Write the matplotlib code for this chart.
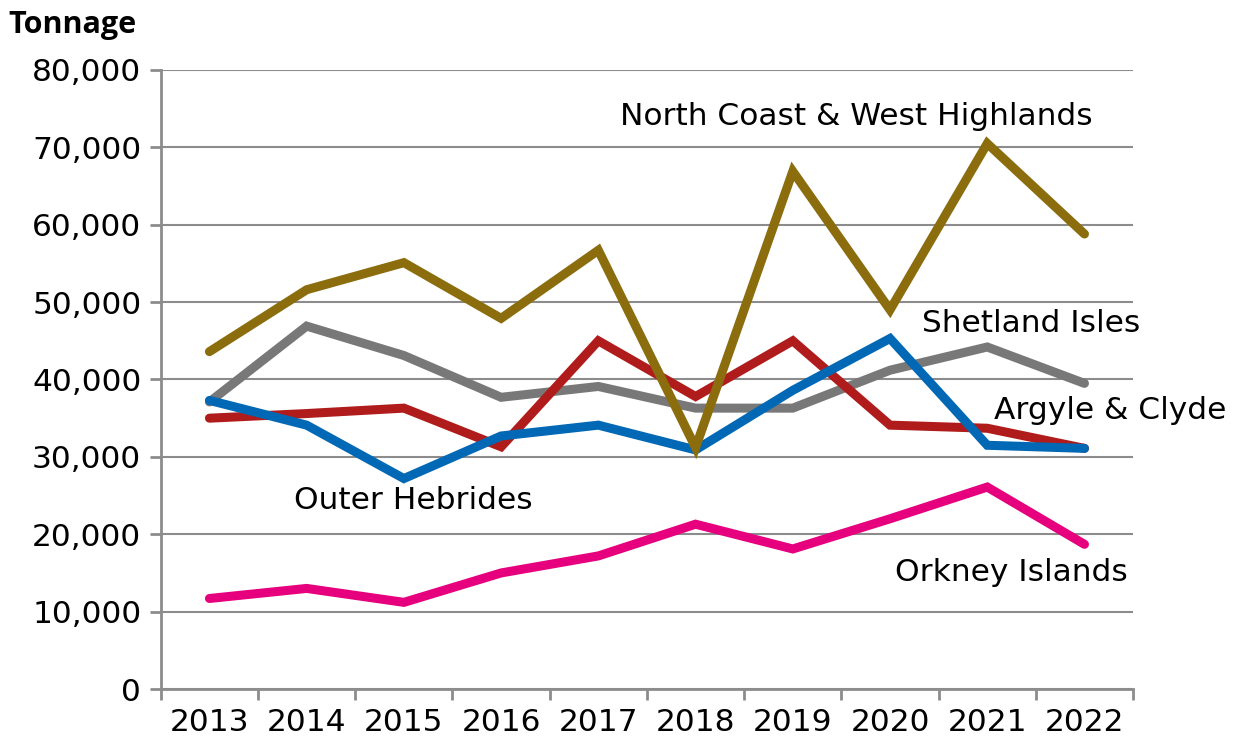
import numpy as np
import matplotlib.pyplot as plt

plt.rcParams['font.family'] = ['DejaVu Sans']

years = ["2013", "2014", "2015", "2016", "2017", "2018", "2019", "2020", "2021", "2022"]
north_coast = [43600, 51600, 55100, 47900, 56700, 31200, 66900, 49000, 70500, 58800]
shetland = [37100, 46900, 43100, 37700, 39100, 36300, 36300, 41200, 44200, 39500]
argyle = [35000, 35600, 36300, 31300, 45000, 37800, 45000, 34100, 33700, 31100]
outer_hebrides = [37300, 34100, 27200, 32700, 34100, 30900, 38600, 45300, 31500, 31100]
orkney = [11700, 13000, 11200, 15000, 17200, 21300, 18100, 22000, 26100, 18700]

fig = plt.figure(figsize=(12.37, 7.42), dpi=100)
ax = fig.add_axes([0.130, 0.0714, 0.786, 0.8343])

x = np.arange(len(years))
lw = 6.5
ax.plot(x, orkney, color="#E6007E", lw=lw, solid_capstyle="round", solid_joinstyle="miter", zorder=3)
ax.plot(x, shetland, color="#787878", lw=lw, solid_capstyle="round", solid_joinstyle="miter", zorder=3)
ax.plot(x, argyle, color="#B01C1C", lw=lw, solid_capstyle="round", solid_joinstyle="miter", zorder=3)
ax.plot(x, outer_hebrides, color="#0068B4", lw=lw, solid_capstyle="round", solid_joinstyle="miter", zorder=3)
ax.plot(x, north_coast, color="#8B6D0E", lw=lw, solid_capstyle="round", solid_joinstyle="miter", zorder=3)

ax.set_xlim(-0.5, len(years) - 0.5)
ax.set_ylim(0, 80000)
ax.set_yticks(np.arange(0, 80001, 10000))
ax.set_yticklabels([f"{v:,}" for v in range(0, 80001, 10000)])
ax.set_xticks(x)
ax.set_xticklabels(years)
ax.set_xticks(np.arange(-0.5, len(years)), minor=True)
ax.tick_params(axis="x", which="major", length=0, pad=14, labelsize=22.5)
ax.tick_params(axis="x", which="minor", length=8, width=2, color="#8C8C8C")
ax.tick_params(axis="y", length=8, width=2, color="#8C8C8C", labelsize=22.5, pad=6)
ax.grid(axis="y", color="#8C8C8C", lw=1.5, zorder=0)

for s in ["top", "right"]:
    ax.spines[s].set_visible(False)
for s in ["left", "bottom"]:
    ax.spines[s].set_color("#8C8C8C")
    ax.spines[s].set_linewidth(2)

fs = 22.5
ax.text(4.22, 74000, "North Coast & West Highlands", fontsize=fs, va="center", ha="left")
ax.text(7.33, 47300, "Shetland Isles", fontsize=fs, va="center", ha="left")
ax.text(8.07, 36050, "Argyle & Clyde", fontsize=fs, va="center", ha="left", clip_on=False)
ax.text(0.87, 24400, "Outer Hebrides", fontsize=fs, va="center", ha="left")
ax.text(7.05, 15000, "Orkney Islands", fontsize=fs, va="center", ha="left")

fig.text(8 / 1237, 1 - 25 / 742, "Tonnage", fontsize=22, fontweight="bold",
         family="Open Sans", va="center", ha="left")

fig.savefig("out.png", dpi=100)
